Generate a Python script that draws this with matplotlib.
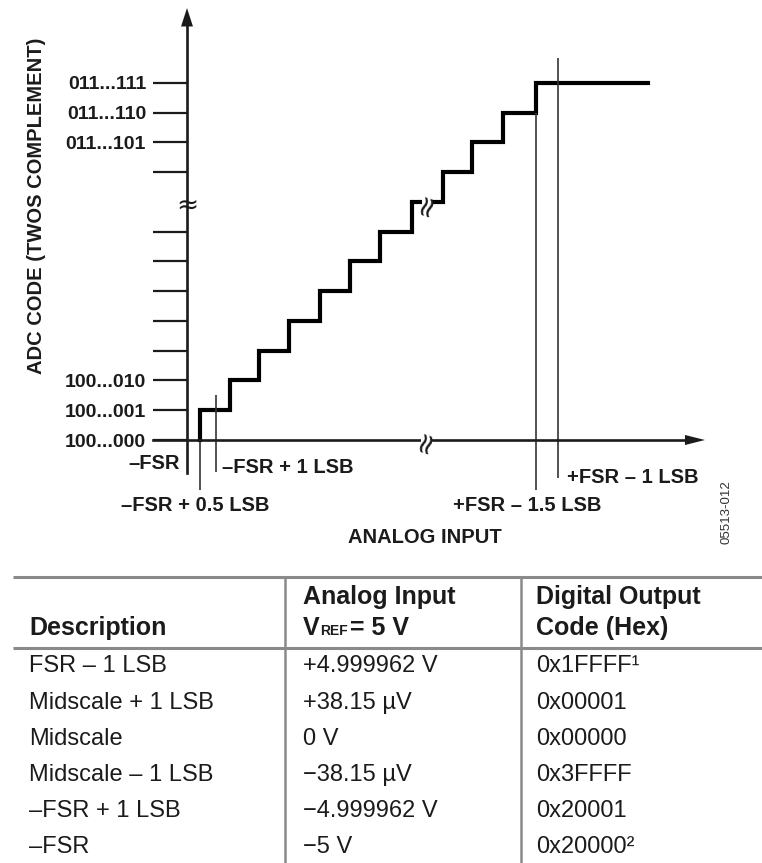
import matplotlib
matplotlib.use("Agg")
import matplotlib.pyplot as plt
from matplotlib.patches import Polygon, Rectangle

plt.rcParams["font.family"] = ["Liberation Sans", "DejaVu Sans"]

# ---- transfer function (x in LSB from -FSR, y = output code step) ----
step_edges = [0.44, 1.44, 2.42, 3.42, 4.46, 5.47, 6.48, 7.55, 8.59, 9.56, 10.60, 11.71, 15.47]
step_codes = [0, 1, 2, 3, 4, 5, 6, 7, 8, 9, 10, 11, 12]

tick_codes = [0, 1, 2, 3, 4, 5, 6, 7, 9, 10, 11, 12]
tick_labels = ["100...000", "100...001", "100...010", "", "", "", "", "",
               "", "011...101", "011...110", "011...111"]

# reference lines: x position, top, bottom (same units)
marker_x = [0.44, 0.97, 11.71, 12.45]
marker_top = [0, 1.51, 11, 12.84]
marker_bottom = [-1.68, -1.08, -1.68, -1.28]

# ---- table ----
col_desc = ["FSR – 1 LSB", "Midscale + 1 LSB", "Midscale", "Midscale – 1 LSB",
            "–FSR + 1 LSB", "–FSR"]
col_analog = ["+4.999962 V", "+38.15 µV", "0 V", "−38.15 µV", "−4.999962 V", "−5 V"]
col_code = ["0x1FFFF¹", "0x00001", "0x00000", "0x3FFFF", "0x20001", "0x20000²"]

INK = "#1b1b1b"
GRID = "#8a8a8a"

fig = plt.figure(figsize=(7.62, 8.63), dpi=100)

# chart axes: 1 LSB ~ 29.8 px, origin (-FSR, 100...000) at px (187, 440)
ax = fig.add_axes([0, 0, 1, 1])
ax.set_xlim(-187 / 29.8, 575 / 29.8)
ax.set_ylim(-423 / 29.75, 440 / 29.75)
ax.patch.set_alpha(0)
for s in ["top", "right"]:
    ax.spines[s].set_visible(False)
ax.spines["left"].set_position(("data", 0))
ax.spines["bottom"].set_position(("data", 0))
ax.spines["left"].set_bounds(-1.11, 14.2)
ax.spines["bottom"].set_bounds(-1.14, 16.8)
for s in ["left", "bottom"]:
    ax.spines[s].set_linewidth(1.9)
    ax.spines[s].set_color(INK)
ax.set_xticks([])
ax.set_yticks(tick_codes, tick_labels)
ax.tick_params(axis="y", direction="out", length=24.5, width=1.6, pad=5,
               labelsize=14, color=INK, labelcolor=INK)
for lab in ax.get_yticklabels():
    lab.set_fontweight("bold")

# arrow heads
ax.add_patch(Polygon([(0, 14.52), (-0.2, 13.9), (0.2, 13.9)], closed=True,
                     color=INK, lw=0))
ax.add_patch(Polygon([(17.38, 0), (16.71, 0.17), (16.71, -0.17)], closed=True,
                     color=INK, lw=0))

# staircase
xs = [step_edges[0]] + step_edges
ys = step_codes + [step_codes[-1]]
ax.step(xs, ys, where="post", color="black", lw=3.0, solid_joinstyle="miter")

# thin reference lines
ax.vlines(marker_x, marker_bottom, marker_top, color="#333333", lw=1.2)

# ---- layout layer (pixel coordinates) ----
lay = fig.add_axes([0, 0, 1, 1])
lay.set_xlim(0, 762)
lay.set_ylim(863, 0)
lay.axis("off")

def label(x, y, s, ha="left", size=14.5, **kw):
    lay.text(x, y, s, ha=ha, va="center", fontsize=size, fontweight="bold",
             color=INK, **kw)

label(37, 206, "ADC CODE (TWOS COMPLEMENT)", ha="center", rotation=90)
label(180, 463, "–FSR", ha="right")
label(222, 467, "–FSR + 1 LSB")
label(195, 505, "–FSR + 0.5 LSB", ha="center")
label(527, 505, "+FSR – 1.5 LSB", ha="center")
label(567, 477, "+FSR – 1 LSB")
label(425, 537, "ANALOG INPUT", ha="center")
lay.text(727, 512, "05513-012", rotation=90, ha="center", va="center",
         fontsize=9.5, color="#333333")

# break marks
lay.text(187, 206, "≈", ha="center", va="center", fontsize=19, color=INK,
         family="DejaVu Sans")
for bx, by in [(427, 203), (426, 440)]:
    lay.add_patch(Rectangle((bx - 5, by - 5), 10, 10, fc="white", ec="none",
                            zorder=3))
    lay.text(bx, by + 1, "≈", ha="center", va="center", fontsize=21, color=INK,
             rotation=72, family="DejaVu Sans", zorder=4)

# table rules
lay.hlines([577, 648], 13, 762, color=GRID, lw=2.2)
lay.vlines([285, 521], 577, 863, color=GRID, lw=1.8)

HEAD = 18
BODY = 17
lay.text(29, 628, "Description", fontsize=HEAD, fontweight="bold", va="center",
         color=INK)
lay.text(303, 597, "Analog Input", fontsize=HEAD, fontweight="bold", va="center",
         color=INK)
v = lay.text(303, 628, "V", fontsize=HEAD, fontweight="bold", va="center", color=INK)
r = lay.annotate("REF", xy=(1, 0.08), xycoords=v, xytext=(0.3, 0),
                 textcoords="offset points", fontsize=10, fontweight="bold",
                 va="bottom", ha="left", color=INK)
lay.annotate("= 5 V", xy=(1, 0.5), xycoords=(r, v), xytext=(1.5, 0),
             textcoords="offset points", fontsize=HEAD, fontweight="bold",
             va="center", ha="left", color=INK)
lay.text(536, 597, "Digital Output", fontsize=HEAD, fontweight="bold", va="center",
         color=INK)
lay.text(536, 628, "Code (Hex)", fontsize=HEAD, fontweight="bold", va="center",
         color=INK)

row_y = [666, 703, 739, 775, 811, 847]
for yy, a, b, c in zip(row_y, col_desc, col_analog, col_code):
    lay.text(29, yy, a, fontsize=BODY, va="center", color=INK)
    lay.text(303, yy, b, fontsize=BODY, va="center", color=INK)
    lay.text(536, yy, c, fontsize=BODY, va="center", color=INK)

fig.savefig("out.png", dpi=100)
plt.close(fig)
